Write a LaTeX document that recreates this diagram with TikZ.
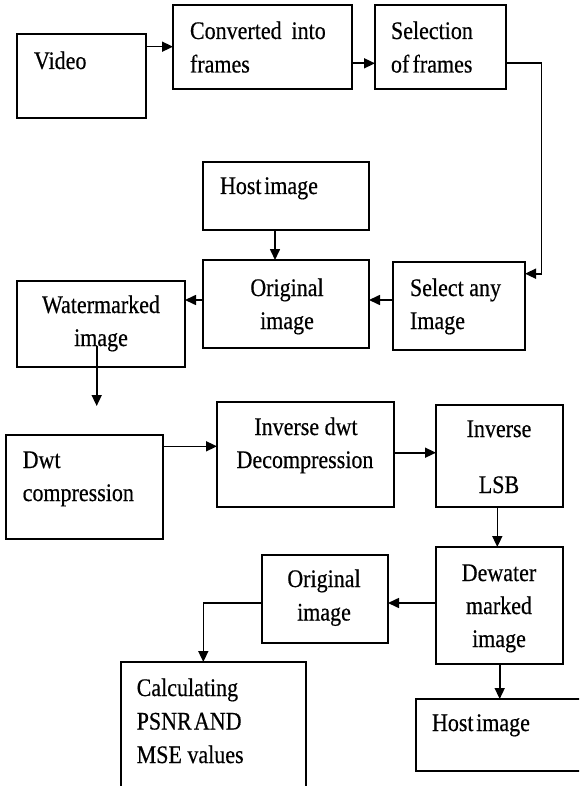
\documentclass[tikz,border=0pt]{standalone}
\usepackage{fontspec}
\setmainfont{Liberation Serif}[UprightFeatures={FakeBold=0.5}]
\usepackage{graphicx}
\usetikzlibrary{arrows.meta}
\newcommand\stx[1]{\scalebox{1}[1.15]{#1}}
\begin{document}
\begin{tikzpicture}[x=1pt,y=-1pt,
  box/.style={draw, line width=1.8pt, inner sep=0pt, outer sep=0pt, anchor=north west},
  txt/.style={inner sep=0pt, outer sep=0pt, font=\fontsize{22pt}{33pt}\selectfont},
  arr/.style={line width=1.6pt, -{Triangle[length=11pt,width=10pt]}}]
\useasboundingbox (0,0) rectangle (579,786);
\clip (0,0) rectangle (579,786);
% boxes
\node[box, minimum width=129pt, minimum height=84pt] (video) at (17,34) {};
\node[box, minimum width=179pt, minimum height=84pt] (conv) at (173,5) {};
\node[box, minimum width=131pt, minimum height=84pt] (sel) at (375,5) {};
\node[box, minimum width=166pt, minimum height=68pt] (host1) at (203,162) {};
\node[box, minimum width=166pt, minimum height=88pt] (orig1) at (203,260) {};
\node[box, minimum width=132pt, minimum height=88pt] (selimg) at (393,262) {};
\node[box, minimum width=168pt, minimum height=86pt] (wm) at (17,281) {};
\node[box, minimum width=157pt, minimum height=104pt] (dwt) at (6,435) {};
\node[box, minimum width=177pt, minimum height=105pt] (idwt) at (217,402) {};
\node[box, minimum width=127pt, minimum height=102pt] (ilsb) at (436,405) {};
\node[box, minimum width=127pt, minimum height=117pt] (dew) at (436,547) {};
\node[box, minimum width=126pt, minimum height=88pt] (orig2) at (262,555) {};
\node[box, minimum width=185pt, minimum height=140pt] (calc) at (121,662) {};
\node[box, minimum width=180pt, minimum height=72pt] (host2) at (416,699) {};
% texts
\node[txt, anchor=base west] (t1) at (34,69) {\stx{Video}};
\node[txt, anchor=base west] (t2a) at (190,39) {\stx{Converted\hspace{0.45em}into}};
\node[txt, anchor=base west] (t2b) at (190,72.5) {\stx{frames}};
\node[txt, anchor=base west] (t3a) at (391,39) {\stx{Selection}};
\node[txt, anchor=base west] (t3b) at (391,72.5) {\stx{of\hspace{0.15em}frames}};
\node[txt, anchor=base west] (t4) at (220,194) {\stx{Host\hspace{0.12em}image}};
\node[txt, anchor=base] (t5a) at (287,296) {\stx{Original}};
\node[txt, anchor=base] (t5b) at (287,329) {\stx{image}};
\node[txt, anchor=base west] (t6a) at (410,296) {\stx{Select any}};
\node[txt, anchor=base west] (t6b) at (410,329) {\stx{Image}};
\node[txt, anchor=base] (t7a) at (101,313) {\stx{Watermarked}};
\node[txt, anchor=base] (t7b) at (101,346) {\stx{image}};
\node[txt, anchor=base west] (t8a) at (22.7,468) {\stx{Dwt}};
\node[txt, anchor=base west] (t8b) at (22.7,501) {\stx{compression}};
\node[txt, anchor=base] (t9a) at (306,435) {\stx{Inverse dwt}};
\node[txt, anchor=base] (t9b) at (305,468) {\stx{Decompression}};
\node[txt, anchor=base] (t10a) at (499,437) {\stx{Inverse}};
\node[txt, anchor=base] (t10b) at (499,493) {\stx{LSB}};
\node[txt, anchor=base] (t11a) at (499,581) {\stx{Dewater}};
\node[txt, anchor=base] (t11b) at (499,614) {\stx{marked}};
\node[txt, anchor=base] (t11c) at (499,647) {\stx{image}};
\node[txt, anchor=base] (t12a) at (324,587) {\stx{Original}};
\node[txt, anchor=base] (t12b) at (324,620.5) {\stx{image}};
\node[txt, anchor=base west] (t13a) at (136.7,696) {\stx{Calculating}};
\node[txt, anchor=base west] (t13b) at (136.7,729.5) {\stx{PSNR\hspace{0.1em}AND}};
\node[txt, anchor=base west] (t13c) at (136.7,763) {\stx{MSE values}};
\node[txt, anchor=base west] (t14) at (432,731) {\stx{Host\hspace{0.12em}image}};
% connectors
\coordinate (wmstart) at (96.7,346);
\coordinate (wmend) at (96.7,406);
\draw[arr] (video.east |- 0,46.7) -- (conv.west |- 0,46.7);
\draw[arr] (conv.east |- 0,63.3) -- (sel.west |- 0,63.3);
\draw[arr] (sel.east |- 0,63.3) -- (541.3,63.3) -- (541.3,273.7) -- (selimg.east |- 0,273.7);
\draw[arr] (host1.south -| 275,0) -- (orig1.north -| 275,0);
\draw[arr] (selimg.west |- 0,300) -- (orig1.east |- 0,300);
\draw[arr] (orig1.west |- 0,300) -- (wm.east |- 0,300);
\draw[arr] (wmstart) -- (wmend);
\draw[arr] (dwt.east |- 0,446.3) -- (idwt.west |- 0,446.3);
\draw[arr] (idwt.east |- 0,452.7) -- (ilsb.west |- 0,452.7);
\draw[arr] (ilsb.south -| 497.3,0) -- (dew.north -| 497.3,0);
\draw[arr] (dew.west |- 0,603) -- (orig2.east |- 0,603);
\draw[arr] (orig2.west |- 0,603) -- (203.3,603) -- (calc.north -| 203.3,0);
\draw[arr] (dew.south -| 499.7,0) -- (host2.north -| 499.7,0);
\end{tikzpicture}
\end{document}
